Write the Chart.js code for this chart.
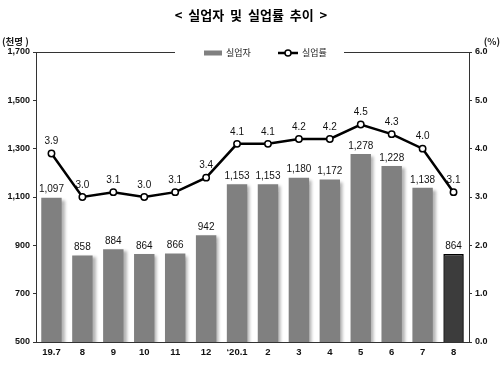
<!DOCTYPE html>
<html><head><meta charset="utf-8">
<script src="https://cdn.jsdelivr.net/npm/chart.js@4/dist/chart.umd.min.js"></script>
<style>html,body{margin:0;padding:0;background:#fff}#wrap{width:502px;height:383px}</style>
</head><body><div id="wrap"><canvas id="c" width="502" height="383"></canvas></div>
<script>
const categories = ["19.7","8","9","10","11","12","\u201820.1","2","3","4","5","6","7","8"];
const unemployed = [1097, 858, 884, 864, 866, 942, 1153, 1153, 1180, 1172, 1278, 1228, 1138, 864];
const unemploymentRate = [3.9, 3.0, 3.1, 3.0, 3.1, 3.4, 4.1, 4.1, 4.2, 4.2, 4.5, 4.3, 4.0, 3.1];
const seriesNames = ["실업자", "실업률"];
const titleText = "<  실업자  및  실업률  추이  >";
const leftUnit = "(천명 )";
const rightUnit = "(%)";

const barColors = unemployed.map((v,i)=> i===unemployed.length-1 ? "#3c3c3c" : "#808080");
const barBorders = unemployed.map((v,i)=> i===unemployed.length-1 ? "#000000" : "#808080");
const barBorderW = unemployed.map((v,i)=> i===unemployed.length-1 ? 1.5 : 0);

const NUMFONT = "Liberation Sans, Arial, sans-serif";
const KRFONT = "'Noto Sans CJK KR', sans-serif";

const extras = {
  id: 'extras',
  beforeDatasetDraw(chart, args) {
    if (args.index === 0) {
      const ctx = chart.ctx; ctx.save();
      ctx.shadowColor = 'rgba(0,0,0,0.3)';
      ctx.shadowOffsetX = 3; ctx.shadowOffsetY = 2; ctx.shadowBlur = 3;
    }
  },
  afterDatasetDraw(chart, args) {
    if (args.index === 0) chart.ctx.restore();
  },
  afterDraw(chart) {
    const ctx = chart.ctx, ca = chart.chartArea;
    ctx.save();
    ctx.strokeStyle = '#333'; ctx.lineWidth = 1;
    ctx.beginPath();
    ctx.moveTo(ca.left, ca.top + 0.5); ctx.lineTo(175, ca.top + 0.5);
    ctx.moveTo(344, ca.top + 0.5); ctx.lineTo(ca.right, ca.top + 0.5);
    ctx.stroke();
    const ly = ca.top + 1;
    ctx.fillStyle = '#808080';
    ctx.fillRect(204, ly - 2.5, 18, 5);
    ctx.fillStyle = '#222';
    ctx.font = "9px " + KRFONT;
    ctx.textBaseline = 'middle'; ctx.textAlign = 'left';
    ctx.fillText(seriesNames[0], 226, ly);
    ctx.strokeStyle = '#000'; ctx.lineWidth = 2.5;
    ctx.beginPath(); ctx.moveTo(278, ly); ctx.lineTo(298, ly); ctx.stroke();
    ctx.fillStyle = '#fff'; ctx.lineWidth = 1.5;
    ctx.beginPath(); ctx.arc(288, ly, 3, 0, Math.PI*2); ctx.fill(); ctx.stroke();
    ctx.fillStyle = '#222';
    ctx.fillText(seriesNames[1], 302, ly);
    ctx.font = "bold 9.5px " + KRFONT;
    ctx.textAlign = 'left';
    ctx.fillText(leftUnit, 2, 41);
    ctx.textAlign = 'right';
    ctx.fillText(rightUnit, 500, 41);
    ctx.fillStyle = '#111';
    ctx.font = "10px " + NUMFONT;
    ctx.textAlign = 'center'; ctx.textBaseline = 'bottom';
    const barMeta = chart.getDatasetMeta(0);
    barMeta.data.forEach((el, i) => {
      ctx.fillText(unemployed[i].toLocaleString('en-US'), el.x, el.y - 3);
    });
    const lineMeta = chart.getDatasetMeta(1);
    lineMeta.data.forEach((el, i) => {
      ctx.fillText(unemploymentRate[i].toFixed(1), el.x, el.y - 7);
    });
    ctx.restore();
  }
};

new Chart(document.getElementById('c'), {
  data: {
    labels: categories,
    datasets: [
      { type: 'bar', label: seriesNames[0], data: unemployed, yAxisID: 'y',
        backgroundColor: barColors, borderColor: barBorders, borderWidth: barBorderW,
        categoryPercentage: 0.66, barPercentage: 1.0, order: 2 },
      { type: 'line', label: seriesNames[1], data: unemploymentRate, yAxisID: 'y1',
        borderColor: '#000', borderWidth: 2.5, tension: 0,
        pointRadius: 3.2, pointBackgroundColor: '#fff', pointBorderColor: '#000', pointBorderWidth: 1.5,
        order: 1 }
    ]
  },
  options: {
    responsive: false, animation: false,
    layout: { padding: { left: 0, right: 0, top: 0, bottom: 0 } },
    plugins: {
      legend: { display: false },
      tooltip: { enabled: false },
      title: { display: true, text: titleText, color: '#000',
        font: { family: KRFONT, size: 13, weight: 'bold', lineHeight: 1.2 },
        padding: { top: 7, bottom: 29.4 } }
    },
    scales: {
      x: {
        afterFit(s) { s.height = 41; },
        grid: { display: false, drawTicks: false },
        border: { display: true, color: '#333', width: 1 },
        ticks: { color: '#111', padding: 5, maxRotation: 0, autoSkip: false,
          font: { family: NUMFONT, size: 9.5, weight: 'bold' } }
      },
      y: {
        position: 'left', min: 500, max: 1700,
        afterFit(s) { s.width = 36; },
        grid: { drawOnChartArea: false, drawTicks: true, tickLength: 3, color: '#333' },
        border: { display: true, color: '#333', width: 1 },
        ticks: { stepSize: 200, color: '#111', padding: 3,
          font: { family: NUMFONT, size: 9, weight: 'bold' },
          callback: v => v.toLocaleString('en-US') }
      },
      y1: {
        position: 'right', min: 0, max: 6,
        afterFit(s) { s.width = 33; },
        grid: { drawOnChartArea: false, drawTicks: true, tickLength: 3, color: '#333' },
        border: { display: true, color: '#333', width: 1 },
        ticks: { stepSize: 1, color: '#111', padding: 3,
          font: { family: NUMFONT, size: 9, weight: 'bold' },
          callback: v => Number(v).toFixed(1) }
      }
    }
  },
  plugins: [extras]
});
</script>
</body></html>
